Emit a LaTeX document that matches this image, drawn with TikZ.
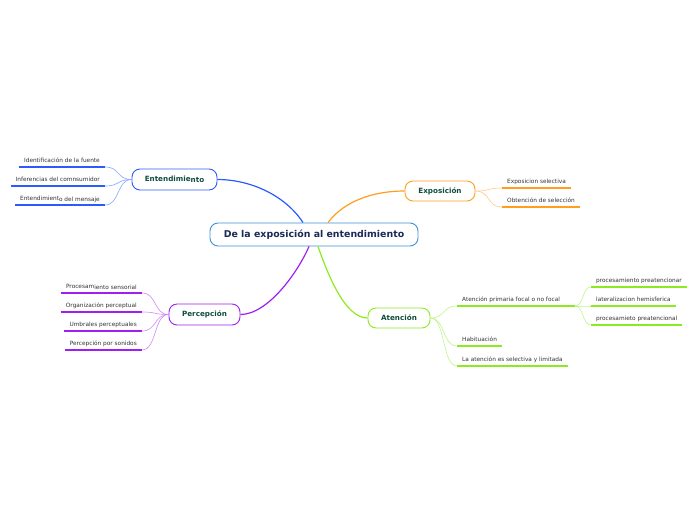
\documentclass[tikz,border=0pt]{standalone}
\usepackage{fontspec}
\setmainfont{DejaVu Sans}
\definecolor{cblue}{HTML}{2B5BFF}
\definecolor{cbluel}{HTML}{86A6FF}
\definecolor{corange}{HTML}{FF9E1F}
\definecolor{corangel}{HTML}{FFC98A}
\definecolor{cpurple}{HTML}{9F1FF2}
\definecolor{cpurplel}{HTML}{CC88FF}
\definecolor{cgreen}{HTML}{8CEB1F}
\definecolor{cgreenl}{HTML}{BDF58A}
\definecolor{ccenter}{HTML}{3C92D8}
\definecolor{ctext}{HTML}{1B2A57}
\definecolor{mtext}{HTML}{0E4D3C}
\definecolor{ltext}{HTML}{333333}
\begin{document}
\begin{tikzpicture}[x=1pt,y=-1pt,
  centerbox/.style={draw=ccenter, line width=0.9pt, fill=white, rounded corners=8pt,
    minimum width=208pt, minimum height=23pt, inner sep=0pt,
    font=\fontsize{9.4}{11}\selectfont\bfseries, text=ctext},
  mainbox/.style={line width=0.9pt, fill=white, rounded corners=8pt, inner sep=0pt,
    font=\fontsize{7.2}{9}\selectfont\bfseries, text=mtext},
  leaf/.style={font=\fontsize{5.8}{7}\selectfont, text=ltext, inner xsep=5pt,
    inner ysep=3pt, text height=4.4pt, text depth=1.4pt},
  uline/.style={line width=1.8pt},
  conn/.style={line width=1.2pt},
  lconn/.style={line width=0.6pt}]
\path[use as bounding box] (0,0) rectangle (696,520);

% central and main nodes
\node[centerbox] (c) at (314,234.5) {De la exposición al entendimiento};
\node[mainbox, draw=cblue, minimum width=85pt, minimum height=21pt] (ent) at (174.5,179.5) {Entendimie\raisebox{-1.2pt}{nto}};
\node[mainbox, draw=corange, minimum width=70pt, minimum height=20pt] (exp) at (440,191) {Exposición};
\node[mainbox, draw=cpurple, minimum width=71pt, minimum height=21pt] (per) at (204.5,314.5) {Percepción};
\node[mainbox, draw=cgreen, minimum width=62pt, minimum height=20pt] (ate) at (399,318) {Atención};

% main connectors
\draw[conn, cblue] ([xshift=-11pt]c.north) .. controls (285,195) and (250,179.5) .. (ent.east);
\draw[conn, corange] ([xshift=14pt]c.north) .. controls (345,200) and (375,191) .. (exp.west);
\draw[conn, cpurple] ([xshift=-5pt]c.south) .. controls (298,272) and (268,314.5) .. (per.east);
\draw[conn, cgreen] ([xshift=4pt]c.south) .. controls (328,275) and (345,318) .. (ate.west);

% Entendimiento leaves
\node[leaf, anchor=south east] (e1) at (105,167) {Identificación de la fuente};
\node[leaf, anchor=south east] (e2) at (105,186) {Inferencias del comnsumidor};
\node[leaf, anchor=south east] (e3) at (105,205) {Entendimient\raisebox{-1pt}{o del mensaje}};
\foreach \n in {e1,e2,e3}{
  \draw[uline, cblue] (\n.south west) -- (\n.south east);
  \draw[lconn, cbluel] (\n.south east) .. controls +(15,0) and +(-15,0) .. (ent.west);
}

% Exposicion leaves
\node[leaf, anchor=south west] (x1) at (502,188) {Exposicion selectiva};
\node[leaf, anchor=south west] (x2) at (502,207) {Obtención de selección};
\foreach \n in {x1,x2}{
  \draw[uline, corange] (\n.south west) -- (\n.south east);
  \draw[lconn, corangel] (exp.east) .. controls +(15,0) and +(-15,0) .. (\n.south west);
}

% Percepcion leaves
\node[leaf, anchor=south east] (p1) at (142,293) {Procesam\raisebox{-1pt}{iento sensorial}};
\node[leaf, anchor=south east] (p2) at (142,312) {Organización perceptual};
\node[leaf, anchor=south east] (p3) at (142,331) {Umbrales perceptuales};
\node[leaf, anchor=south east] (p4) at (142,350) {Percepción por sonidos};
\foreach \n in {p1,p2,p3,p4}{
  \draw[uline, cpurple] (\n.south west) -- (\n.south east);
  \draw[lconn, cpurplel] (\n.south east) .. controls +(15,0) and +(-15,0) .. (per.west);
}

% Atencion leaves
\node[leaf, anchor=south west] (a1) at (457,306) {Atención primaria focal o no focal};
\node[leaf, anchor=south west] (a2) at (457,346) {Habituación};
\node[leaf, anchor=south west] (a3) at (457,366) {La atención es selectiva y limitada};
\coordinate (a1end) at (575,306);
\draw[uline, cgreen] (a1.south west) -- (a1end);
\foreach \n in {a2,a3}{
  \draw[uline, cgreen] (\n.south west) -- (\n.south east);
}
\foreach \n in {a1,a2,a3}{
  \draw[lconn, cgreenl] (ate.east) .. controls +(15,0) and +(-15,0) .. (\n.south west);
}

% Atencion sub-leaves
\node[leaf, anchor=south west] (s1) at (591,287) {procesamiento preatencionar};
\node[leaf, anchor=south west] (s2) at (591,306) {lateralizacion hemisferica};
\node[leaf, anchor=south west] (s3) at (591,325) {procesamieto preatencional};
\foreach \n in {s1,s2,s3}{
  \draw[uline, cgreen] (\n.south west) -- (\n.south east);
  \draw[lconn, cgreenl] (a1end) .. controls +(9,0) and +(-9,0) .. (\n.south west);
}
\end{tikzpicture}
\end{document}
